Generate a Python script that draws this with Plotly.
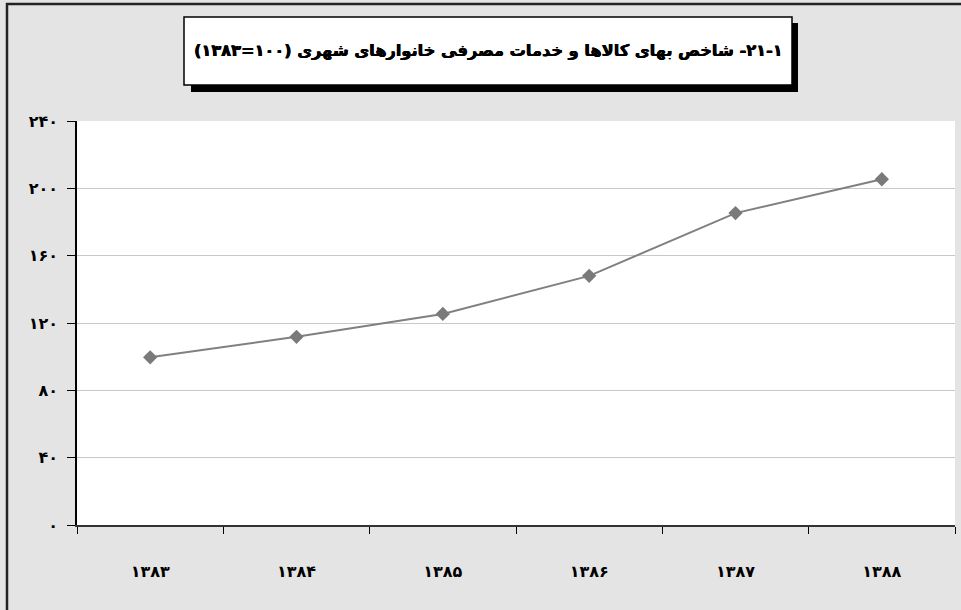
import plotly.graph_objects as go

# ---- data ----
years = ["۱۳۸۳", "۱۳۸۴", "۱۳۸۵", "۱۳۸۶", "۱۳۸۷", "۱۳۸۸"]
index_values = [99.6, 111.8, 125.4, 148.0, 185.3, 205.4]
y_tick_vals = [0, 40, 80, 120, 160, 200, 240]
y_tick_text = ["۰", "۴۰", "۸۰", "۱۲۰", "۱۶۰", "۲۰۰", "۲۴۰"]
title_text = "۲۱-۱- شاخص بهای کالاها و خدمات مصرفی خانوارهای شهری (۱۰۰=۱۳۸۳)"

W, H = 961, 610
L, R, T, B = 77, 6, 121, 85
PW, PH = W - L - R, H - T - B


def px(x):
    return (x - L) / PW


def py(y):
    return (H - B - y) / PH


FONT = "DejaVu Sans"
BG = "#e4e4e4"
HEAVY = "0.4px 0 0 #000, -0.3px 0 0 #000"

fig = go.Figure()
fig.add_trace(go.Scatter(
    x=years, y=index_values, mode="lines+markers",
    line=dict(color="#808080", width=2),
    marker=dict(symbol="diamond", size=11, color="#7a7a7a"),
    showlegend=False, hoverinfo="x+y",
))

shapes = [
    # outer chart border
    dict(type="rect", xref="paper", yref="paper",
         x0=px(7), x1=px(975), y0=py(625), y1=py(4),
         line=dict(color="#222222", width=2.5), fillcolor="rgba(0,0,0,0)", layer="above"),
    # title shadow
    dict(type="rect", xref="paper", yref="paper",
         x0=px(191), x1=px(798), y0=py(92), y1=py(23),
         line=dict(width=0), fillcolor="#000000", layer="above"),
    # title box
    dict(type="rect", xref="paper", yref="paper",
         x0=px(184), x1=px(792), y0=py(85), y1=py(17),
         line=dict(color="#000000", width=1.5), fillcolor="#ffffff", layer="above"),
]

annotations = [
    dict(xref="paper", yref="paper", x=px(488), y=py(50),
         text="\u202B" + title_text + "\u202C", showarrow=False,
         xanchor="center", yanchor="middle",
         font=dict(family=FONT, size=16.2, color="#000000", weight="bold", shadow=HEAVY)),
]

fig.update_layout(
    width=W, height=H,
    margin=dict(l=L, r=R, t=T, b=B),
    paper_bgcolor=BG,
    plot_bgcolor="#ffffff",
    shapes=shapes,
    annotations=annotations,
    xaxis=dict(
        type="category", tickson="boundaries",
        ticks="outside", ticklen=7, tickcolor="#000000", tickwidth=1,
        showline=True, linecolor="#333333", linewidth=1.5,
        showgrid=False, ticklabelstandoff=31,
        tickfont=dict(family=FONT, size=16, color="#000000", weight="bold"),
        range=[-0.5, 5.5],
    ),
    yaxis=dict(
        range=[0, 240], tickvals=y_tick_vals, ticktext=y_tick_text,
        ticks="outside", ticklen=8, tickcolor="#000000", tickwidth=1,
        showline=True, linecolor="#000000", linewidth=1.5,
        showgrid=True, gridcolor="#c8c8c8", gridwidth=1,
        zeroline=False, ticklabelstandoff=6,
        tickfont=dict(family=FONT, size=16, color="#000000", weight="bold"),
    ),
)

fig.write_html(
    "out.html",
    config={"displayModeBar": False},
    post_script="document.body.style.margin='0';document.body.style.background='" + BG + "';",
)
